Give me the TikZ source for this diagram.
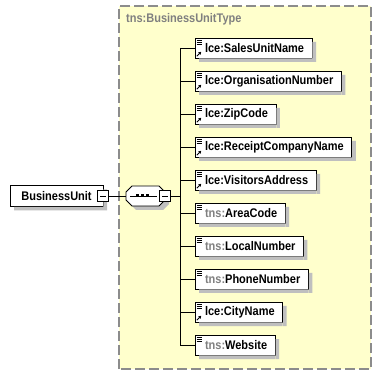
\documentclass[tikz,border=0pt]{standalone}
\usepackage{fontspec}
\setmainfont{Liberation Sans}[FakeStretch=0.88]
\usetikzlibrary{positioning,arrows.meta}
\definecolor{typefill}{HTML}{FFFFCC}
\definecolor{typeline}{HTML}{8C8C8C}
\colorlet{castgray}{black!25}
\definecolor{prefixgray}{HTML}{808080}
\newcommand{\tns}{\textcolor{prefixgray}{tns:}}

\begin{document}
\begin{tikzpicture}[
  x=1pt, y=1pt,
  font=\bfseries\fontsize{12.5}{14}\selectfont,
  box/.style={draw, fill=white, line width=.9pt, outer sep=0pt, minimum height=20pt, inner xsep=0pt},
  elem/.style={box, anchor=west,
    execute at begin node={\hspace*{10pt}}, execute at end node={\hspace*{8pt}},
    path picture={
      \draw[line width=.8pt] ([xshift=1.5pt,yshift=-2.5pt]path picture bounding box.north west) -- ++(5pt,0);
      \draw[line width=.8pt] ([xshift=1.5pt,yshift=-4.5pt]path picture bounding box.north west) -- ++(5pt,0);
      \draw[line width=.8pt] ([xshift=1.5pt,yshift=-6.5pt]path picture bounding box.north west) -- ++(5pt,0);
    }},
  refelem/.style={elem,
    path picture={
      \draw[line width=.8pt] ([xshift=1.5pt,yshift=-2.5pt]path picture bounding box.north west) -- ++(5pt,0);
      \draw[line width=.8pt] ([xshift=1.5pt,yshift=-4.5pt]path picture bounding box.north west) -- ++(5pt,0);
      \draw[line width=.8pt] ([xshift=1.5pt,yshift=-6.5pt]path picture bounding box.north west) -- ++(5pt,0);
      \draw[line width=.9pt, -{Triangle[length=2.6pt,width=3pt]}] ([xshift=1.8pt,yshift=1.8pt]path picture bounding box.south west) -- ++(4.4pt,4.4pt);
    }},
  minus/.style={draw, fill=white, line width=.9pt, minimum size=11pt, inner sep=0pt,
    path picture={\draw[line width=.9pt] ([xshift=2.5pt]path picture bounding box.west) -- ([xshift=-2.5pt]path picture bounding box.east);}},
  wire/.style={line width=.9pt},
  octagon/.style={line width=.9pt},
]
  \useasboundingbox (0,0) rectangle (382,377);
  % complex type frame
  \draw[fill=typefill, draw=typeline, line width=1.1pt, dash pattern=on 10pt off 4pt] (119,8) rectangle (371,371);
  \node[anchor=west, text=prefixgray, inner sep=0pt] (typename) at (126,358) {tns:BusinessUnitType};

  % element and sequence compositor
  \node[box, anchor=west, minimum width=93pt, minimum height=21pt] (bu) at (10,181) {BusinessUnit};
  \fill[castgray] ([xshift=4pt,yshift=-4pt]bu.south west) rectangle ([yshift=-.45pt]bu.south east)
                  ([xshift=.45pt,yshift=-4pt]bu.south east) rectangle ([xshift=4pt,yshift=-4pt]bu.north east);
  \node[minus] (bumin) at (bu.east) {};
  \node[anchor=west, minimum width=39pt, minimum height=20pt, inner sep=0pt, outer sep=0pt] (seq) at (126,181) {};
  \fill[castgray]
    ([xshift=10pt,yshift=-4pt]seq.north west) -- ([xshift=-2pt,yshift=-4pt]seq.north east) -- ([xshift=4pt,yshift=-10pt]seq.north east)
    -- ([xshift=4pt,yshift=2pt]seq.south east) -- ([xshift=-2pt,yshift=-4pt]seq.south east) -- ([xshift=10pt,yshift=-4pt]seq.south west)
    -- ([xshift=4pt,yshift=2pt]seq.south west) -- ([xshift=4pt,yshift=-10pt]seq.north west) -- cycle;
  \draw[octagon, fill=white]
    ([xshift=6pt]seq.north west) -- ([xshift=-6pt]seq.north east) -- ([yshift=-6pt]seq.north east)
    -- ([yshift=6pt]seq.south east) -- ([xshift=-6pt]seq.south east) -- ([xshift=6pt]seq.south west)
    -- ([yshift=6pt]seq.south west) -- ([yshift=-6pt]seq.north west) -- cycle;
  \draw[wire] ([xshift=4pt]seq.west) -- ([xshift=31pt]seq.west);
  \fill ([xshift=9.7pt,yshift=-1.5pt]seq.west) rectangle ++(3.3pt,3pt);
  \fill ([xshift=14.7pt,yshift=-1.5pt]seq.west) rectangle ++(3.3pt,3pt);
  \fill ([xshift=19.7pt,yshift=-1.5pt]seq.west) rectangle ++(3.3pt,3pt);
  \node[minus] (seqmin) at (seq.east) {};
  \coordinate (trunk) at (180,181);

  % children
  \node[refelem] (sales) at (195,329) {lce:SalesUnitName};
  \node[refelem, below right=13pt and 0pt of sales.south west, anchor=north west] (orgno) {lce:OrganisationNumber};
  \node[refelem, below right=13pt and 0pt of orgno.south west, anchor=north west] (zip) {lce:ZipCode};
  \node[refelem, below right=13pt and 0pt of zip.south west, anchor=north west] (receipt) {lce:ReceiptCompanyName};
  \node[refelem, below right=13pt and 0pt of receipt.south west, anchor=north west] (visitors) {lce:VisitorsAddress};
  \node[elem, below right=13pt and 0pt of visitors.south west, anchor=north west] (area) {\tns AreaCode};
  \node[elem, below right=13pt and 0pt of area.south west, anchor=north west] (local) {\tns LocalNumber};
  \node[elem, below right=13pt and 0pt of local.south west, anchor=north west] (phone) {\tns PhoneNumber};
  \node[refelem, below right=13pt and 0pt of phone.south west, anchor=north west] (city) {lce:CityName};
  \node[elem, below right=13pt and 0pt of city.south west, anchor=north west] (web) {\tns Website};

  % shadows of the children
  \foreach \n in {sales,orgno,zip,receipt,visitors,area,local,phone,city,web}
    \fill[castgray] ([xshift=4pt,yshift=-4pt]\n.south west) rectangle ([yshift=-.45pt]\n.south east)
                    ([xshift=.45pt,yshift=-4pt]\n.south east) rectangle ([xshift=4pt,yshift=-4pt]\n.north east);

  % connectors
  \draw[wire] (bumin.east) -- (seq.west);
  \draw[wire] (seqmin.east) -- (trunk);
  \draw[wire] (trunk |- sales.west) -- (trunk |- web.west);
  \draw[wire] (trunk |- sales.west) -- (sales.west);
  \draw[wire] (trunk |- orgno.west) -- (orgno.west);
  \draw[wire] (trunk |- zip.west) -- (zip.west);
  \draw[wire] (trunk |- receipt.west) -- (receipt.west);
  \draw[wire] (trunk |- visitors.west) -- (visitors.west);
  \draw[wire] (trunk |- area.west) -- (area.west);
  \draw[wire] (trunk |- local.west) -- (local.west);
  \draw[wire] (trunk |- phone.west) -- (phone.west);
  \draw[wire] (trunk |- city.west) -- (city.west);
  \draw[wire] (trunk |- web.west) -- (web.west);
\end{tikzpicture}
\end{document}
